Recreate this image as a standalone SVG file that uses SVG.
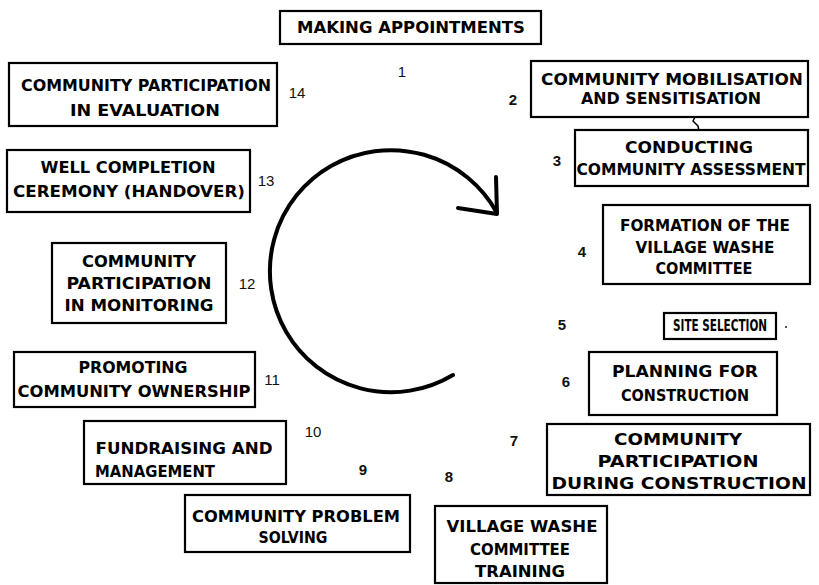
<svg xmlns="http://www.w3.org/2000/svg" width="819" height="585" viewBox="0 0 819 585">
  <style>
    .box { fill: #ffffff; stroke: #000000; stroke-width: 2.2; }
    .lbl { font-family: "DejaVu Sans", "Liberation Sans", sans-serif; font-weight: 900; font-size: 15px; fill: #000000; text-anchor: middle; }
    .num { font-family: "Liberation Sans", "DejaVu Sans", sans-serif; font-size: 15px; fill: #111111; text-anchor: middle; }
    .numb { font-weight: bold; }
    .conn { fill: none; stroke: #000000; stroke-linecap: round; stroke-linejoin: round; }
  </style>
  <rect x="0" y="0" width="819" height="585" fill="#ffffff"/>

  <g id="connectors">
    <path class="conn" stroke-width="4" d="M 453 375 A 121 121 0 1 1 497 213"/>
    <path class="conn" stroke-width="4" d="M 496 177 L 497 214 M 458 208 L 497 214"/>
    <path class="conn" stroke-width="1.5" d="M 695 117 L 693 121 L 698 126 L 699 131"/>
  </g>

  <g id="node1">
    <rect class="box" x="280" y="11" width="261" height="33"/>
    <text class="lbl" x="411" y="33" textLength="228" lengthAdjust="spacingAndGlyphs">MAKING APPOINTMENTS</text>
    <text class="num" x="402" y="77">1</text>
  </g>

  <g id="node2">
    <rect class="box" x="531" y="61" width="277" height="56"/>
    <text class="lbl" x="672" y="85" textLength="262" lengthAdjust="spacingAndGlyphs">COMMUNITY MOBILISATION</text>
    <text class="lbl" x="671" y="104" textLength="180" lengthAdjust="spacingAndGlyphs">AND SENSITISATION</text>
    <text class="num numb" x="513" y="105">2</text>
  </g>

  <g id="node3">
    <rect class="box" x="575" y="130" width="233" height="56"/>
    <text class="lbl" x="689" y="153" textLength="128" lengthAdjust="spacingAndGlyphs">CONDUCTING</text>
    <text class="lbl" x="691" y="175" textLength="229" lengthAdjust="spacingAndGlyphs">COMMUNITY ASSESSMENT</text>
    <text class="num numb" x="557" y="166">3</text>
  </g>

  <g id="node4">
    <rect class="box" x="603" y="205" width="207" height="79"/>
    <text class="lbl" x="705" y="231" textLength="170" lengthAdjust="spacingAndGlyphs">FORMATION OF THE</text>
    <text class="lbl" x="705" y="253" textLength="139" lengthAdjust="spacingAndGlyphs">VILLAGE WASHE</text>
    <text class="lbl" x="704" y="274" textLength="97" lengthAdjust="spacingAndGlyphs">COMMITTEE</text>
    <text class="num numb" x="582" y="257">4</text>
  </g>

  <g id="node5">
    <rect class="box" x="664" y="313" width="112" height="26"/>
    <text class="lbl" x="720" y="331" textLength="94" lengthAdjust="spacingAndGlyphs">SITE SELECTION</text>
    <text class="num numb" x="562" y="330">5</text>
    <circle cx="786" cy="327" r="0.9" fill="#000000"/>
  </g>

  <g id="node6">
    <rect class="box" x="589" y="352" width="188" height="63"/>
    <text class="lbl" x="685" y="377" textLength="146" lengthAdjust="spacingAndGlyphs">PLANNING FOR</text>
    <text class="lbl" x="685" y="401" textLength="128" lengthAdjust="spacingAndGlyphs">CONSTRUCTION</text>
    <text class="num numb" x="566" y="387">6</text>
  </g>

  <g id="node7">
    <rect class="box" x="547" y="424" width="263" height="71"/>
    <text class="lbl" x="678" y="445" textLength="128" lengthAdjust="spacingAndGlyphs">COMMUNITY</text>
    <text class="lbl" x="678" y="467" textLength="161" lengthAdjust="spacingAndGlyphs">PARTICIPATION</text>
    <text class="lbl" x="679" y="489" textLength="255" lengthAdjust="spacingAndGlyphs">DURING CONSTRUCTION</text>
    <text class="num numb" x="514" y="446">7</text>
  </g>

  <g id="node8">
    <rect class="box" x="435" y="506" width="172" height="77"/>
    <text class="lbl" x="522" y="532" textLength="151" lengthAdjust="spacingAndGlyphs">VILLAGE WASHE</text>
    <text class="lbl" x="520" y="555" textLength="100" lengthAdjust="spacingAndGlyphs">COMMITTEE</text>
    <text class="lbl" x="520" y="577" textLength="90" lengthAdjust="spacingAndGlyphs">TRAINING</text>
    <text class="num numb" x="449" y="482">8</text>
  </g>

  <g id="node9">
    <rect class="box" x="185" y="495" width="225" height="57"/>
    <text class="lbl" x="296" y="522" textLength="208" lengthAdjust="spacingAndGlyphs">COMMUNITY PROBLEM</text>
    <text class="lbl" x="293" y="543" textLength="69" lengthAdjust="spacingAndGlyphs">SOLVING</text>
    <text class="num numb" x="363" y="475">9</text>
  </g>

  <g id="node10">
    <rect class="box" x="84" y="421" width="202" height="63"/>
    <text class="lbl" x="184" y="454" textLength="177" lengthAdjust="spacingAndGlyphs">FUNDRAISING AND</text>
    <text class="lbl" x="155" y="477" textLength="120" lengthAdjust="spacingAndGlyphs">MANAGEMENT</text>
    <text class="num" x="313" y="437">10</text>
  </g>

  <g id="node11">
    <rect class="box" x="14" y="352" width="241" height="55"/>
    <text class="lbl" x="133" y="373" textLength="109" lengthAdjust="spacingAndGlyphs">PROMOTING</text>
    <text class="lbl" x="134" y="397" textLength="233" lengthAdjust="spacingAndGlyphs">COMMUNITY OWNERSHIP</text>
    <text class="num" x="272" y="385">11</text>
  </g>

  <g id="node12">
    <rect class="box" x="52" y="243" width="174" height="80"/>
    <text class="lbl" x="139" y="267" textLength="114" lengthAdjust="spacingAndGlyphs">COMMUNITY</text>
    <text class="lbl" x="139" y="289" textLength="145" lengthAdjust="spacingAndGlyphs">PARTICIPATION</text>
    <text class="lbl" x="139" y="311" textLength="149" lengthAdjust="spacingAndGlyphs">IN MONITORING</text>
    <text class="num" x="247" y="289">12</text>
  </g>

  <g id="node13">
    <rect class="box" x="7" y="150" width="243" height="62"/>
    <text class="lbl" x="128" y="173" textLength="175" lengthAdjust="spacingAndGlyphs">WELL COMPLETION</text>
    <text class="lbl" x="129" y="197" textLength="232" lengthAdjust="spacingAndGlyphs">CEREMONY (HANDOVER)</text>
    <text class="num" x="266" y="186">13</text>
  </g>

  <g id="node14">
    <rect class="box" x="9" y="63" width="268" height="63"/>
    <text class="lbl" x="146" y="91" textLength="250" lengthAdjust="spacingAndGlyphs">COMMUNITY PARTICIPATION</text>
    <text class="lbl" x="145" y="116" textLength="150" lengthAdjust="spacingAndGlyphs">IN EVALUATION</text>
    <text class="num" x="297" y="98">14</text>
  </g>
</svg>
